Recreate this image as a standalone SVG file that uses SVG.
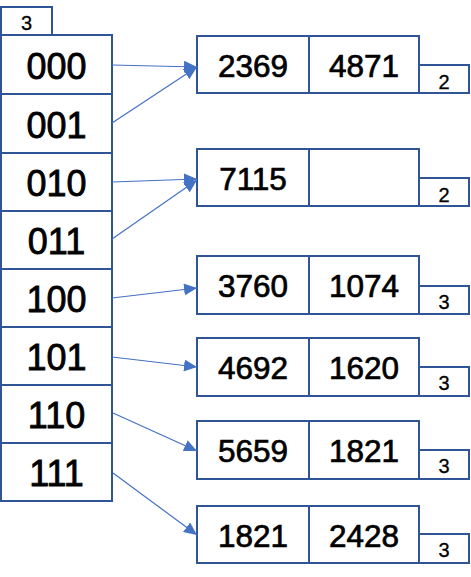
<svg xmlns="http://www.w3.org/2000/svg" width="471" height="577" viewBox="0 0 471 577">
<defs>
<style>
.box{fill:#fff;stroke:#2F5597;stroke-width:2}
.dir{font-family:"Liberation Sans",Arial,sans-serif;font-size:36px;text-anchor:middle;fill:#000;stroke:#000;stroke-width:0.8}
.val{font-family:"Liberation Sans",Arial,sans-serif;font-size:31.5px;text-anchor:middle;fill:#000;stroke:#000;stroke-width:0.7}
.dep{font-family:"Liberation Sans",Arial,sans-serif;font-size:20px;text-anchor:middle;fill:#000;stroke:#000;stroke-width:0.3}
.arr{stroke:#4472C4;stroke-width:1.2;fill:none;marker-end:url(#ah)}
</style>
<marker id="ah" markerUnits="userSpaceOnUse" markerWidth="14" markerHeight="12" refX="13" refY="6" orient="auto">
<path d="M0,0 L13,6 L0,12 Z" fill="#4472C4"/>
</marker>
</defs>
<rect width="471" height="577" fill="#fff"/>
<g id="global-depth">
<rect class="box" x="1" y="7" width="51" height="28"/>
<text class="dep" x="26.5" y="30">3</text>
</g>
<g id="directory">
<g id="d000"><rect class="box" x="1" y="35" width="111" height="59"/><text class="dir" x="56.5" y="79">000</text></g>
<g id="d001"><rect class="box" x="1" y="94" width="111" height="59"/><text class="dir" x="56.5" y="137.5">001</text></g>
<g id="d010"><rect class="box" x="1" y="153" width="111" height="58"/><text class="dir" x="56.5" y="196">010</text></g>
<g id="d011"><rect class="box" x="1" y="211" width="111" height="58"/><text class="dir" x="56.5" y="254">011</text></g>
<g id="d100"><rect class="box" x="1" y="269" width="111" height="58"/><text class="dir" x="56.5" y="312">100</text></g>
<g id="d101"><rect class="box" x="1" y="327" width="111" height="58"/><text class="dir" x="56.5" y="370">101</text></g>
<g id="d110"><rect class="box" x="1" y="385" width="111" height="58"/><text class="dir" x="56.5" y="428">110</text></g>
<g id="d111"><rect class="box" x="1" y="443" width="111" height="58"/><text class="dir" x="56.5" y="486">111</text></g>
</g>
<g id="bucket1">
<rect class="box" x="419" y="65" width="50" height="28"/><text class="dep" x="444" y="88.5">2</text>
<rect class="box" x="197" y="36" width="112" height="57"/><rect class="box" x="309" y="36" width="110" height="57"/>
<text class="val" x="253" y="77">2369</text><text class="val" x="364" y="77">4871</text>
</g>
<g id="bucket2">
<rect class="box" x="419" y="178" width="50" height="28"/><text class="dep" x="444" y="201.5">2</text>
<rect class="box" x="197" y="149" width="112" height="57"/><rect class="box" x="309" y="149" width="110" height="57"/>
<text class="val" x="253" y="190">7115</text>
</g>
<g id="bucket3">
<rect class="box" x="419" y="286" width="50" height="28"/><text class="dep" x="444" y="309">3</text>
<rect class="box" x="197" y="256" width="112" height="58"/><rect class="box" x="309" y="256" width="110" height="58"/>
<text class="val" x="253" y="297">3760</text><text class="val" x="364" y="297">1074</text>
</g>
<g id="bucket4">
<rect class="box" x="419" y="367" width="50" height="29"/><text class="dep" x="444" y="390">3</text>
<rect class="box" x="197" y="338" width="112" height="58"/><rect class="box" x="309" y="338" width="110" height="58"/>
<text class="val" x="253" y="379">4692</text><text class="val" x="364" y="379">1620</text>
</g>
<g id="bucket5">
<rect class="box" x="419" y="450" width="50" height="29"/><text class="dep" x="444" y="473">3</text>
<rect class="box" x="197" y="421" width="112" height="58"/><rect class="box" x="309" y="421" width="110" height="58"/>
<text class="val" x="253" y="462">5659</text><text class="val" x="364" y="462">1821</text>
</g>
<g id="bucket6">
<rect class="box" x="419" y="534" width="50" height="29"/><text class="dep" x="444" y="557">3</text>
<rect class="box" x="197" y="506" width="112" height="57"/><rect class="box" x="309" y="506" width="110" height="57"/>
<text class="val" x="253" y="547">1821</text><text class="val" x="364" y="547">2428</text>
</g>
<g id="connectors">
<line class="arr" x1="112" y1="65" x2="197" y2="67"/>
<line class="arr" x1="112" y1="123" x2="197" y2="67"/>
<line class="arr" x1="112" y1="182" x2="197" y2="179"/>
<line class="arr" x1="112" y1="239" x2="197" y2="180"/>
<line class="arr" x1="112" y1="298" x2="197" y2="288"/>
<line class="arr" x1="112" y1="357" x2="197" y2="367"/>
<line class="arr" x1="113" y1="413" x2="197" y2="451"/>
<line class="arr" x1="113" y1="473" x2="197" y2="535"/>
</g>
</svg>
